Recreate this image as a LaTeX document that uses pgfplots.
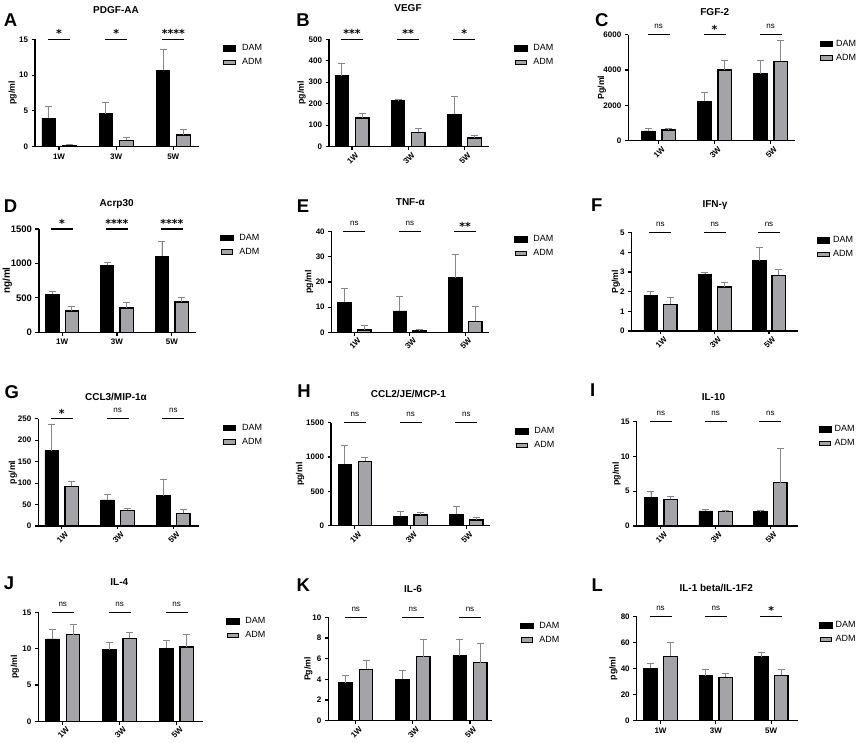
\documentclass[border=0pt]{standalone}
\usepackage{pgfplots}
\pgfplotsset{compat=1.18}
\usepackage{fontspec}
\setmainfont{Liberation Sans}
\newfontfamily\starfont{DejaVu Sans}
\definecolor{admgray}{RGB}{163,163,168}
\definecolor{errgray}{RGB}{135,135,135}
\pgfplotsset{
  panel/.style={
    scale only axis, anchor=south west,
    ybar, bar width=13.5pt,
    ymin=0, enlargelimits=false,
    axis x line*=bottom, axis y line*=left,
    axis line style={line width=1.2pt},
    tick align=outside, major tick length=3.5pt,
    tick style={line width=1.1pt, black},
    xtick={0,1,2}, xticklabels={1W,3W,5W},
    clip=false,
    /pgf/number format/assume math mode=true,
    /pgf/number format/1000 sep={},
    ticklabel style={font=\bfseries\fontsize{8}{9}\selectfont},
    every axis title/.style={at={(axis description cs:0.5,1)}, anchor=center, font=\bfseries\fontsize{10}{12}\selectfont},
    every axis y label/.style={rotate=90, anchor=center, font=\bfseries\fontsize{8.8}{10}\selectfont},
    legend style={draw=none, fill=none, at={(axis description cs:1,1)}, anchor=north west, inner sep=0pt, row sep=2.5pt, yshift=-3pt, font=\fontsize{9}{10}\selectfont, cells={anchor=west}},
  },
  rot/.style={xticklabel style={xshift=3pt, rotate=45, anchor=north east, inner sep=1pt}},
  dam/.style={fill=black, draw=black, line width=0.8pt, bar shift=0pt,
    error bars/y dir=plus, error bars/y explicit,
    error bars/error bar style={line width=0.9pt, draw=errgray},
    error bars/error mark options={rotate=90, mark size=3.5pt, line width=0.9pt, draw=errgray},
    legend image code/.code={\draw[fill=black,draw=black] (0pt,-2.8pt) rectangle (12.3pt,2.8pt);}},
  adm/.style={fill=admgray, draw=black, line width=1.3pt, bar shift=0pt,
    error bars/y dir=plus, error bars/y explicit,
    error bars/error bar style={line width=0.9pt, draw=errgray},
    error bars/error mark options={rotate=90, mark size=3.5pt, line width=0.9pt, draw=errgray},
    legend image code/.code={\draw[fill=admgray,draw=black,line width=1.1pt] (0.5pt,-2.3pt) rectangle (11.8pt,2.3pt);}},
}
\newcommand\sig[3]{%
  \draw[line width=1.1pt] ([xshift=-11pt]axis cs:#1,#2) -- ([xshift=11pt]axis cs:#1,#2);
  \node[anchor=base, inner sep=0pt, font=\starfont\bfseries\fontsize{11}{11}\selectfont] at ([yshift=1.5pt]axis cs:#1,#2) {#3};}
\newcommand\ns[2]{%
  \draw[line width=1.1pt] ([xshift=-11pt]axis cs:#1,#2) -- ([xshift=11pt]axis cs:#1,#2);
  \node[anchor=base, inner sep=0pt, font=\fontsize{8}{8}\selectfont] at ([yshift=5.8pt]axis cs:#1,#2) {ns};}
\newcommand\letter[3]{\node[font=\bfseries\fontsize{18.5}{20}\selectfont, anchor=center] at (#1pt,#2pt) {#3};}
\newcommand\leg{\legend{\hspace{4pt}DAM,\hspace{4pt}ADM}}
\newcommand\legr{\legend{\hspace{1pt}DAM,\hspace{1pt}ADM}}
\begin{document}
\begin{tikzpicture}
\path[use as bounding box] (0,0) rectangle (858pt,743pt);
% ---------- A ----------
\begin{axis}[panel, at={(35pt,596.3pt)}, width=164pt, height=107.4pt,
  xmin=-0.42, xmax=2.45, ymax=15, ytick={0,5,10,15},
  title={PDGF-AA}, title style={yshift=29.3pt, xshift=-1pt},
  ylabel={pg/ml}, ylabel style={at={(axis description cs:-0.136,0.5)}},
  legend style={xshift=23.7pt}]
\addplot[dam] coordinates {(-0.18,3.96) +- (0,1.72) (0.82,4.61) +- (0,1.63) (1.82,10.67) +- (0,2.93)};
\addplot[adm] coordinates {(0.18,0.2) +- (0,0.17) (1.18,0.88) +- (0,0.42) (2.18,1.63) +- (0,0.84)};
\leg
\sig{0}{15}{*}\sig{1}{15}{*}\sig{2}{15}{****}
\end{axis}
% ---------- B ----------
\begin{axis}[panel, rot, at={(329pt,596.3pt)}, width=160pt, height=107.4pt,
  xmin=-0.41, xmax=2.44, ymax=500, ytick={0,100,200,300,400,500},
  title={VEGF}, title style={yshift=31.3pt, xshift=-1pt},
  ylabel={pg/ml}, ylabel style={at={(axis description cs:-0.171,0.5)}},
  legend style={xshift=25pt}]
\addplot[dam] coordinates {(-0.18,331) +- (0,57) (0.82,216) +- (0,2) (1.82,151) +- (0,85)};
\addplot[adm] coordinates {(0.18,133.5) +- (0,21.5) (1.18,67) +- (0,18) (2.18,40) +- (0,13)};
\leg
\sig{0}{500}{***}\sig{1}{500}{**}\sig{2}{500}{*}
\end{axis}
% ---------- C ----------
\begin{axis}[panel, rot, at={(628.3pt,602.3pt)}, width=167pt, height=106pt,
  xmin=-0.54, xmax=2.44, ymax=6000, ytick={0,2000,4000,6000},
  title={FGF-2}, title style={yshift=22.7pt, xshift=3pt},
  ylabel={Pg/ml}, ylabel style={at={(axis description cs:-0.159,0.5)}},
  legend style={xshift=24.5pt}]
\addplot[dam] coordinates {(-0.18,550) +- (0,130) (0.82,2245) +- (0,510) (1.82,3792) +- (0,755)};
\addplot[adm] coordinates {(0.18,600) +- (0,110) (1.18,4000) +- (0,547) (2.18,4490) +- (0,1208)};
\legr
\ns{0}{6000}\sig{1}{6000}{*}\ns{2}{6000}
\end{axis}
% ---------- D ----------
\begin{axis}[panel, at={(39pt,410.7pt)}, width=157pt, height=103.3pt,
  xmin=-0.42, xmax=2.44, ymax=1500, ytick={0,500,1000,1500},
  yticklabel style={font=\bfseries\fontsize{9.5}{10}\selectfont},
  title={Acrp30}, title style={yshift=24.7pt, xshift=-0.8pt},
  ylabel={ng/ml}, ylabel style={at={(axis description cs:-0.202,0.5)}, font=\bfseries\fontsize{10}{11}\selectfont},
  legend style={xshift=24pt}]
\addplot[dam] coordinates {(-0.18,556) +- (0,44) (0.82,972) +- (0,44) (1.82,1103) +- (0,218)};
\addplot[adm] coordinates {(0.18,310) +- (0,63) (1.18,353) +- (0,82) (2.18,440) +- (0,68)};
\leg
\sig{0}{1500}{*}\sig{1}{1500}{****}\sig{2}{1500}{****}
\end{axis}
% ---------- E ----------
\begin{axis}[panel, rot, at={(331.7pt,410.7pt)}, width=157.3pt, height=100.6pt,
  xmin=-0.41, xmax=2.43, ymax=40, ytick={0,10,20,30,40},
  title={TNF-α}, title style={yshift=29.4pt},
  ylabel={pg/ml}, ylabel style={at={(axis description cs:-0.144,0.5)}},
  legend style={xshift=25pt, yshift=1.5pt}]
\addplot[dam] coordinates {(-0.18,11.9) +- (0,5.6) (0.82,8.5) +- (0,5.8) (1.82,21.7) +- (0,9.4)};
\addplot[adm] coordinates {(0.18,0.9) +- (0,1.9) (1.18,0.5) +- (0,0.7) (2.18,4.4) +- (0,5.9)};
\leg
\ns{0}{40}\ns{1}{40}\sig{2}{40}{**}
\end{axis}
% ---------- F ----------
\begin{axis}[panel, rot, at={(631.7pt,412pt)}, width=166.6pt, height=98.3pt,
  xmin=-0.53, xmax=2.54, ymax=5, ytick={0,1,2,3,4,5},
  title={IFN-γ}, title style={yshift=27.7pt},
  ylabel={Pg/ml}, ylabel style={at={(axis description cs:-0.095,0.5)}},
  legend style={xshift=18.4pt, yshift=1.5pt}]
\addplot[dam] coordinates {(-0.18,1.83) +- (0,0.17) (0.82,2.88) +- (0,0.1) (1.82,3.58) +- (0,0.69)};
\addplot[adm] coordinates {(0.18,1.36) +- (0,0.33) (1.18,2.24) +- (0,0.23) (2.18,2.83) +- (0,0.31)};
\legr
\ns{0}{5}\ns{1}{5}\ns{2}{5}
\end{axis}
% ---------- G ----------
\begin{axis}[panel, rot, at={(38.3pt,217pt)}, width=160.7pt, height=107.3pt,
  xmin=-0.42, xmax=2.46, ymax=250, ytick={0,50,100,150,200,250},
  title={CCL3/MIP-1α}, title style={yshift=21.4pt, xshift=-2.7pt},
  ylabel={pg/ml}, ylabel style={at={(axis description cs:-0.159,0.5)}},
  legend style={xshift=23.7pt}]
\addplot[dam] coordinates {(-0.18,175.5) +- (0,61.3) (0.82,60.6) +- (0,13.2) (1.82,70.7) +- (0,38)};
\addplot[adm] coordinates {(0.18,92.4) +- (0,10.6) (1.18,36.5) +- (0,5.5) (2.18,29.5) +- (0,10.1)};
\leg
\sig{0}{250}{*}\ns{1}{250}\ns{2}{250}
\end{axis}
% ---------- H ----------
\begin{axis}[panel, rot, at={(331pt,217.3pt)}, width=158.7pt, height=103pt,
  xmin=-0.43, xmax=2.42, ymax=1500, ytick={0,500,1000,1500},
  title={CCL2/JE/MCP-1}, title style={yshift=28.4pt, xshift=-2pt},
  ylabel={pg/ml}, ylabel style={at={(axis description cs:-0.195,0.5)}},
  legend style={xshift=25.3pt, yshift=0.5pt}]
\addplot[dam] coordinates {(-0.18,898) +- (0,272) (0.82,136) +- (0,68) (1.82,165) +- (0,112)};
\addplot[adm] coordinates {(0.18,937) +- (0,63) (1.18,155) +- (0,39) (2.18,83) +- (0,43)};
\leg
\ns{0}{1500}\ns{1}{1500}\ns{2}{1500}
\end{axis}
% ---------- I ----------
\begin{axis}[panel, rot, at={(636.7pt,217pt)}, width=161.6pt, height=104.3pt,
  xmin=-0.44, xmax=2.51, ymax=15, ytick={0,5,10,15},
  title={IL-10}, title style={yshift=24.4pt, xshift=-4pt},
  ylabel={pg/ml}, ylabel style={at={(axis description cs:-0.124,0.5)}},
  legend style={xshift=20pt, yshift=1.5pt}]
\addplot[dam] coordinates {(-0.18,4.17) +- (0,0.77) (0.82,2.16) +- (0,0.19) (1.82,2.06) +- (0,0.14)};
\addplot[adm] coordinates {(0.18,3.83) +- (0,0.48) (1.18,2.06) +- (0,0.14) (2.18,6.23) +- (0,4.97)};
\legr
\ns{0}{15}\ns{1}{15}\ns{2}{15}
\end{axis}
% ---------- J ----------
\begin{axis}[panel, rot, at={(38.3pt,21.7pt)}, width=164.4pt, height=109pt,
  xmin=-0.43, xmax=2.46, ymax=15, ytick={0,5,10,15},
  title={IL-4}, title style={yshift=30pt, xshift=-1.2pt},
  ylabel={pg/ml}, ylabel style={at={(axis description cs:-0.142,0.5)}},
  legend style={xshift=23.3pt}]
\addplot[dam] coordinates {(-0.18,11.33) +- (0,1.28) (0.82,9.86) +- (0,0.97) (1.82,10.05) +- (0,1.14)};
\addplot[adm] coordinates {(0.18,11.93) +- (0,1.37) (1.18,11.42) +- (0,0.83) (2.18,10.23) +- (0,1.79)};
\leg
\ns{0}{15}\ns{1}{15}\ns{2}{15}
\end{axis}
% ---------- K ----------
\begin{axis}[panel, rot, at={(328.3pt,22.3pt)}, width=163.4pt, height=103.4pt,
  xmin=-0.48, xmax=2.38, ymax=10, ytick={0,2,4,6,8,10},
  title={IL-6}, title style={yshift=28.6pt, xshift=3pt},
  ylabel={Pg/ml}, ylabel style={at={(axis description cs:-0.122,0.5)}},
  legend style={xshift=28.3pt, yshift=0.5pt}]
\addplot[dam] coordinates {(-0.18,3.68) +- (0,0.71) (0.82,4.03) +- (0,0.84) (1.82,6.29) +- (0,1.58)};
\addplot[adm] coordinates {(0.18,4.97) +- (0,0.87) (1.18,6.19) +- (0,1.68) (2.18,5.61) +- (0,1.87)};
\leg
\ns{0}{10}\ns{1}{10}\ns{2}{10}
\end{axis}
% ---------- L ----------
\begin{axis}[panel, at={(636.7pt,22.3pt)}, width=161pt, height=104.4pt,
  xmin=-0.43, xmax=2.48, ymax=80, ytick={0,20,40,60,80},
  title={IL-1 beta/IL-1F2}, title style={yshift=28.3pt, xshift=-1pt},
  ylabel={pg/ml}, ylabel style={at={(axis description cs:-0.145,0.5)}},
  legend style={xshift=21.5pt}]
\addplot[dam] coordinates {(-0.18,40.1) +- (0,3.4) (0.82,34.5) +- (0,4.4) (1.82,49.1) +- (0,3.3)};
\addplot[adm] coordinates {(0.18,49.4) +- (0,10.4) (1.18,33.2) +- (0,2.8) (2.18,34.8) +- (0,4.8)};
\legr
\ns{0}{80}\ns{1}{80}\sig{2}{80}{*}
\end{axis}
% ---------- panel letters ----------
\letter{10.5}{723}{A}
\letter{303}{723}{B}
\letter{601.7}{723}{C}
\letter{10.5}{537.3}{D}
\letter{303}{537.3}{E}
\letter{596.7}{538}{F}
\letter{11.7}{351.3}{G}
\letter{304}{352}{H}
\letter{592.7}{353}{I}
\letter{9}{159.3}{J}
\letter{303.3}{158.3}{K}
\letter{597.3}{158.3}{L}
\end{tikzpicture}
\end{document}
